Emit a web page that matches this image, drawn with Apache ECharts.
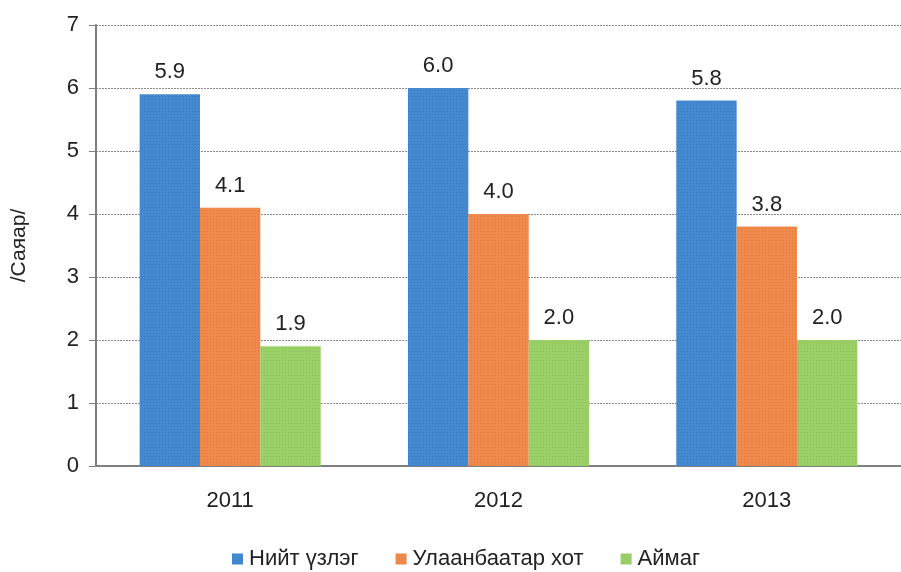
<!DOCTYPE html>
<html>
<head>
<meta charset="utf-8">
<script src="https://cdn.jsdelivr.net/npm/echarts@6/dist/echarts.min.js"></script>
<style>html,body{margin:0;padding:0;background:#fff}#c{width:901px;height:572px}</style>
</head>
<body>
<div id="c"></div>
<script>
var categories = ['2011', '2012', '2013'];
var seriesNames = ['Нийт үзлэг', 'Улаанбаатар хот', 'Аймаг'];
var totalValues = [5.9, 6.0, 5.8];
var ubValues = [4.1, 4.0, 3.8];
var aimagValues = [1.9, 2.0, 2.0];
var yTicks = [0, 1, 2, 3, 4, 5, 6, 7];
var colors = ['#4589d0', '#ef8a4c', '#9bd068'];
var dotColors = ['rgba(20,90,170,0.35)', 'rgba(210,90,20,0.35)', 'rgba(90,160,40,0.3)'];

var font = '"Liberation Sans", Arial, sans-serif';
function mk(name, data, i) {
  return {
    name: name, type: 'bar', data: data,
    barGap: '0%', barCategoryGap: '32.5%',
    itemStyle: {
      color: colors[i],
      decal: { symbol: 'rect', symbolSize: 1, dashArrayX: [1, 2], dashArrayY: [1, 2], color: dotColors[i], rotation: 0 }
    },
    label: {
      show: true, position: 'top', distance: 11,
      formatter: function (p) { return p.value.toFixed(1); },
      fontFamily: font, fontSize: 22, color: '#222'
    }
  };
}
var chart = echarts.init(document.getElementById('c'), null, { renderer: 'canvas' });
chart.setOption({
  animation: false,
  grid: { left: 96, right: 0, top: 25, bottom: 106 },
  legend: {
    top: 543, left: 227, itemWidth: 11, itemHeight: 11, itemGap: 37,
    icon: 'rect',
    textStyle: { fontFamily: font, fontSize: 22, color: '#222', padding: [0, 0, 0, 1] },
    data: seriesNames
  },
  xAxis: {
    type: 'category', data: categories,
    axisLine: { lineStyle: { color: '#808080', width: 2 } },
    axisTick: { show: false },
    axisLabel: { fontFamily: font, fontSize: 22, color: '#222', margin: 24 }
  },
  yAxis: {
    type: 'value', min: yTicks[0], max: yTicks[yTicks.length - 1], interval: 1,
    name: '/Саяар/', nameLocation: 'middle', nameGap: 66, nameRotate: 90,
    nameTextStyle: { fontFamily: font, fontSize: 21, color: '#222' },
    axisLine: { show: true, lineStyle: { color: '#808080', width: 2 } },
    axisTick: { show: true, length: 7, lineStyle: { color: '#808080' } },
    axisLabel: { fontFamily: font, fontSize: 22, color: '#222', margin: 17 },
    splitLine: { lineStyle: { color: '#8a8a8a', type: [2, 1], width: 1 } }
  },
  series: [
    mk(seriesNames[0], totalValues, 0),
    mk(seriesNames[1], ubValues, 1),
    mk(seriesNames[2], aimagValues, 2)
  ]
});
</script>
</body>
</html>
